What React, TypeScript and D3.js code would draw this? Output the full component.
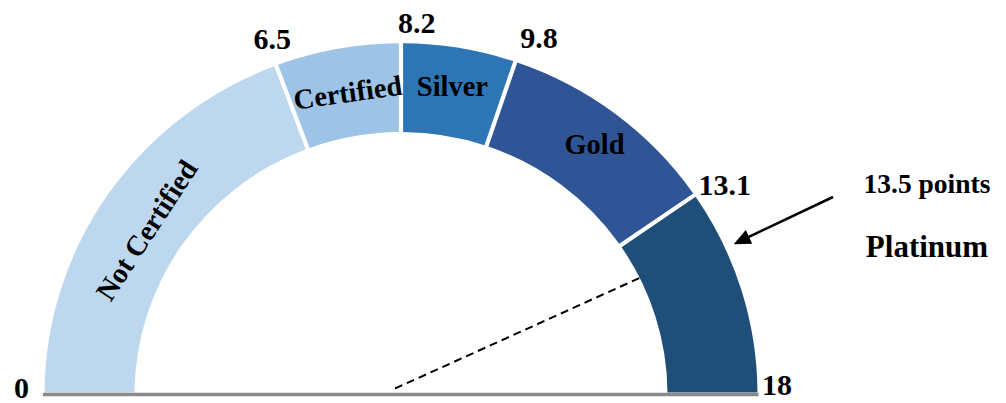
import React from "react";
import * as d3 from "d3";

// ---- data ----
const thresholds = [0, 6.5, 8.2, 9.8, 13.1, 18];
const tickLabels = ["0", "6.5", "8.2", "9.8", "13.1", "18"];
const levels = ["Not Certified", "Certified", "Silver", "Gold", "Platinum"];
const score = 13.5;
const scoreText = "13.5 points";
const scoreLevel = "Platinum";

// ---- styles / layout ----
const W = 1006;
const H = 403;
const cx = 401;
const cy = 394.5;
const rOut = 356.5;
const rIn = 266.5;
const ys = 0.985; // slight vertical squash seen in reference
const colors = ["#BDD7EE", "#9DC3E6", "#2E75B6", "#2F5597", "#1F4E79"];
// angular placement of the gauge (degrees from the left end), as drawn in reference
const angleDomain = [0, 6.5, 8.2, 9.8, 13.1, 13.5, 18];
const angleRange = [0, 69.5, 90, 108.7, 145.4, 155.35, 180];
const font = "'Liberation Serif', 'Times New Roman', serif";

const tickStyle = [
  { anchor: "end", dx: -15.5, dy: 3.5 },
  { anchor: "middle", dx: -4, dy: -17 },
  { anchor: "start", dx: -3, dy: -10 },
  { anchor: "start", dx: 5, dy: -13.5 },
  { anchor: "start", dx: 4, dy: 0 },
  { anchor: "start", dx: 4.5, dy: 0.5 },
];
const labelStyle = [
  { r: 304, dTheta: -1.5, rot: null as number | null, show: true },
  { r: 311, dTheta: 0.4, rot: -8, show: true },
  { r: 316.5, dTheta: 0, rot: 0, show: true },
  { r: 319, dTheta: 0.3, rot: 0, show: true },
  { r: 310, dTheta: 0, rot: 0, show: false },
];

export default function App() {
  const ang = d3.scaleLinear().domain(angleDomain).range(angleRange);
  const rad = (deg: number) => (deg * Math.PI) / 180;
  const pt = (theta: number, r: number): [number, number] => [
    cx - r * Math.cos(rad(theta)),
    cy - r * Math.sin(rad(theta)) * ys,
  ];

  const arc = d3
    .arc<any>()
    .innerRadius(rIn)
    .outerRadius(rOut)
    .padAngle(0.0095);

  const segs = levels.map((name, i) => ({
    name,
    start: thresholds[i],
    end: thresholds[i + 1],
    color: colors[i],
  }));

  const needleTheta = ang(score);
  const off: [number, number] = [-6, -6];
  const n0 = pt(needleTheta, 0);
  const n1 = pt(needleTheta, 274);
  const tip = pt(needleTheta, 366);

  const textX = 927;
  const textY1 = 193;
  const textY2 = 257;
  const tail: [number, number] = [833, 197];
  const adx = tip[0] - tail[0];
  const ady = tip[1] - tail[1];
  const alen = Math.hypot(adx, ady);
  const ux = adx / alen;
  const uy = ady / alen;
  const headLen = 17;
  const headW = 7.5;
  const hb: [number, number] = [tip[0] - ux * headLen, tip[1] - uy * headLen];
  const headPts = [
    tip,
    [hb[0] - uy * headW, hb[1] + ux * headW],
    [hb[0] + uy * headW, hb[1] - ux * headW],
  ]
    .map((p) => p.join(","))
    .join(" ");

  return (
    <svg
      width={W}
      height={H}
      style={{ position: "absolute", left: 0, top: 0, background: "#fff" }}
      fontFamily={font}
      fontWeight="bold"
    >
      <g transform={`translate(${cx},${cy}) scale(1,${ys})`}>
        {segs.map((s, i) => (
          <path
            key={s.name}
            d={
              arc({
                startAngle: rad(ang(s.start) - 90),
                endAngle: rad(ang(s.end) - 90),
              }) as string
            }
            fill={s.color}
          />
        ))}
      </g>
      <line
        x1={cx - rOut - 1.5}
        x2={cx + rOut + 1}
        y1={cy}
        y2={cy}
        stroke="#8a8a8a"
        strokeWidth={3.5}
      />
      {segs.map((s, i) => {
        const st = labelStyle[i];
        if (!st.show) return null;
        const th = (ang(s.start) + ang(s.end)) / 2 + st.dTheta;
        const [x, y] = pt(th, st.r);
        const rot = st.rot === null ? th - 90 : st.rot;
        return (
          <text
            key={s.name}
            x={x}
            y={y}
            textAnchor="middle"
            dominantBaseline="central"
            fontSize={28.5}
            transform={`rotate(${rot},${x},${y})`}
          >
            {s.name}
          </text>
        );
      })}
      {thresholds.map((v, i) => {
        const [x, y] = pt(ang(v), rOut);
        const st = tickStyle[i];
        return (
          <text
            key={v}
            x={x + st.dx}
            y={y + st.dy}
            textAnchor={st.anchor as any}
            fontSize={30}
          >
            {tickLabels[i]}
          </text>
        );
      })}
      <line
        x1={n0[0] + off[0]}
        y1={n0[1] + off[1]}
        x2={n1[0] + off[0]}
        y2={n1[1] + off[1]}
        stroke="#000"
        strokeWidth={2}
        strokeDasharray="8,5"
      />
      <line
        x1={tail[0]}
        y1={tail[1]}
        x2={hb[0] + ux * 2}
        y2={hb[1] + uy * 2}
        stroke="#000"
        strokeWidth={2.5}
      />
      <polygon points={headPts} fill="#000" />
      <text x={textX} y={textY1} textAnchor="middle" fontSize={27.5}>
        {scoreText}
      </text>
      <text x={textX} y={textY2} textAnchor="middle" fontSize={31}>
        {scoreLevel}
      </text>
    </svg>
  );
}
